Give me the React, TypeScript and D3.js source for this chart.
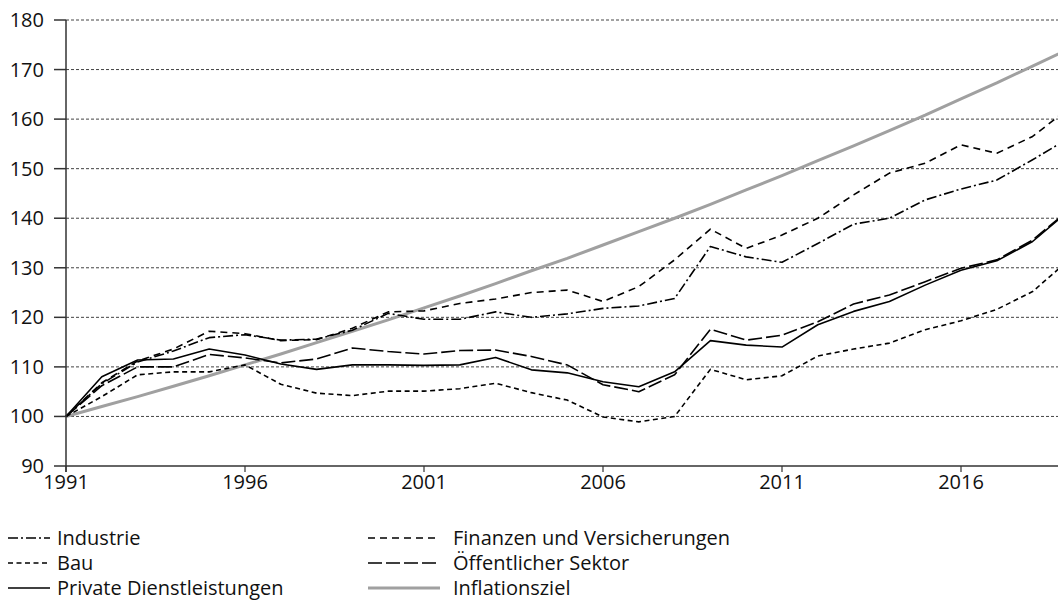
import { useEffect, useRef } from 'react'
import * as d3 from 'd3'

const years = [1991, 1992, 1993, 1994, 1995, 1996, 1997, 1998, 1999, 2000, 2001, 2002, 2003, 2004, 2005, 2006, 2007, 2008, 2009, 2010, 2011, 2012, 2013, 2014, 2015, 2016, 2017, 2018, 2019]

const industrie = [100, 106.6, 111, 113.2, 115.9, 116.5, 115.4, 115.6, 117.4, 120.8, 119.6, 119.6, 121.1, 120.0, 120.7, 121.8, 122.3, 123.8, 134.3, 132.2, 131.1, 134.9, 138.8, 140.0, 143.7, 145.9, 147.7, 151.8, 156.1]
const finanzen = [100, 106.8, 111.2, 113.6, 117.2, 116.7, 115.3, 115.5, 117.8, 121.1, 121.3, 122.8, 123.7, 125.0, 125.5, 123.2, 126.2, 131.6, 137.8, 133.9, 136.6, 140.0, 144.7, 149.1, 151.1, 154.8, 153.1, 156.5, 162.1]
const bau = [100, 104.0, 108.4, 109.0, 109.0, 110.4, 106.5, 104.7, 104.2, 105.1, 105.1, 105.6, 106.7, 104.8, 103.3, 99.9, 98.9, 100.0, 109.5, 107.4, 108.2, 112.2, 113.6, 114.8, 117.5, 119.3, 121.6, 125.2, 131.5]
const oeffentlich = [100, 106.2, 110.0, 110.0, 112.5, 111.8, 110.8, 111.6, 113.8, 113.1, 112.6, 113.3, 113.4, 112.1, 110.4, 106.4, 105.0, 108.4, 117.6, 115.4, 116.4, 119.1, 122.7, 124.5, 127.2, 129.9, 131.6, 135.6, 141.6]
const privat = [100, 108.0, 111.4, 111.6, 113.6, 112.4, 110.6, 109.5, 110.4, 110.4, 110.3, 110.4, 111.9, 109.4, 108.8, 107.0, 106.0, 109.0, 115.3, 114.4, 114.0, 118.5, 121.2, 123.2, 126.5, 129.5, 131.4, 135.3, 141.4]
const inflation = [100, 102, 104.0, 106.1, 108.2, 110.4, 112.6, 114.9, 117.2, 119.5, 121.9, 124.3, 126.8, 129.4, 131.9, 134.6, 137.3, 140.0, 142.8, 145.7, 148.6, 151.6, 154.6, 157.7, 160.8, 164.1, 167.3, 170.7, 174.1]

const yTicks = [90, 100, 110, 120, 130, 140, 150, 160, 170, 180]
const xTicks = [1991, 1996, 2001, 2006, 2011, 2016]

const series = [
  { name: 'Industrie', values: industrie, color: '#000', width: 1.6, dash: '10,3,2,3' },
  { name: 'Bau', values: bau, color: '#000', width: 1.6, dash: '5,3.5' },
  { name: 'Private Dienstleistungen', values: privat, color: '#000', width: 1.6, dash: null },
  { name: 'Finanzen und Versicherungen', values: finanzen, color: '#000', width: 1.6, dash: '7,5' },
  { name: 'Öffentlicher Sektor', values: oeffentlich, color: '#000', width: 1.6, dash: '14,4' },
  { name: 'Inflationsziel', values: inflation, color: '#a0a0a0', width: 3, dash: null },
]

export default function App() {
  const ref = useRef<SVGSVGElement>(null)

  useEffect(() => {
    const svg = d3.select(ref.current)
    svg.selectAll('*').remove()

    const font = '"Open Sans", sans-serif'
    const fontSize = '20px'
    const x = d3.scaleLinear().domain([1991, 2019]).range([66, 1068.4])
    const y = d3.scaleLinear().domain([90, 180]).range([466, 20])

    // grid
    svg.append('g')
      .selectAll('line')
      .data(yTicks.filter(d => d > 90))
      .enter().append('line')
      .attr('x1', 66).attr('x2', 1058)
      .attr('y1', d => y(d)).attr('y2', d => y(d))
      .attr('stroke', '#444').attr('stroke-width', 1)
      .attr('stroke-dasharray', '3,2')

    // lines
    const line = d3.line<number>()
      .x((_, i) => x(years[i]))
      .y(d => y(d))

    series.slice().reverse().forEach(s => {
      svg.append('path')
        .datum(s.values)
        .attr('d', line)
        .attr('fill', 'none')
        .attr('stroke', s.color)
        .attr('stroke-width', s.width)
        .attr('stroke-dasharray', s.dash)
        .attr('stroke-linejoin', 'round')
    })

    // axes
    const axisColor = '#333'
    svg.append('line')
      .attr('x1', 66).attr('x2', 66).attr('y1', 20).attr('y2', 472)
      .attr('stroke', axisColor).attr('stroke-width', 1.5)
    svg.append('line')
      .attr('x1', 66).attr('x2', 1058).attr('y1', 466).attr('y2', 466)
      .attr('stroke', axisColor).attr('stroke-width', 1.5)

    const yg = svg.append('g')
    yg.selectAll('line')
      .data(yTicks)
      .enter().append('line')
      .attr('x1', 54).attr('x2', 66)
      .attr('y1', d => y(d)).attr('y2', d => y(d))
      .attr('stroke', axisColor).attr('stroke-width', 1.5)
    yg.selectAll('text')
      .data(yTicks)
      .enter().append('text')
      .attr('x', 44).attr('y', d => y(d))
      .attr('dy', '0.35em')
      .attr('text-anchor', 'end')
      .style('font-family', font).style('font-size', fontSize).attr('fill', '#111')
      .text(d => d)

    const xg = svg.append('g')
    xg.selectAll('line')
      .data(xTicks)
      .enter().append('line')
      .attr('x1', d => x(d)).attr('x2', d => x(d))
      .attr('y1', 466).attr('y2', 472)
      .attr('stroke', axisColor).attr('stroke-width', 1.2)
    xg.selectAll('text')
      .data(xTicks)
      .enter().append('text')
      .attr('x', d => x(d)).attr('y', 482)
      .attr('dy', '0.35em')
      .attr('text-anchor', 'middle')
      .style('font-family', font).style('font-size', fontSize).attr('fill', '#111')
      .text(d => d)

    // legend
    const lg = svg.append('g')
    series.forEach((s, i) => {
      const col = Math.floor(i / 3)
      const row = i % 3
      const lx = col === 0 ? 8 : 368
      const lw = col === 0 ? 42 : 72
      const ly = 538 + row * 25
      lg.append('line')
        .attr('x1', lx).attr('x2', lx + lw)
        .attr('y1', ly).attr('y2', ly)
        .attr('stroke', s.color)
        .attr('stroke-width', s.width)
        .attr('stroke-dasharray', s.dash)
      lg.append('text')
        .attr('x', col === 0 ? 57 : 453).attr('y', ly)
        .attr('dy', '0.35em')
        .style('font-family', font).style('font-size', fontSize).attr('fill', '#111')
        .text(s.name)
    })
  }, [])

  return (
    <svg
      ref={ref}
      width={1058}
      height={608}
      style={{ position: 'absolute', left: 0, top: 0, background: '#fff' }}
    />
  )
}
